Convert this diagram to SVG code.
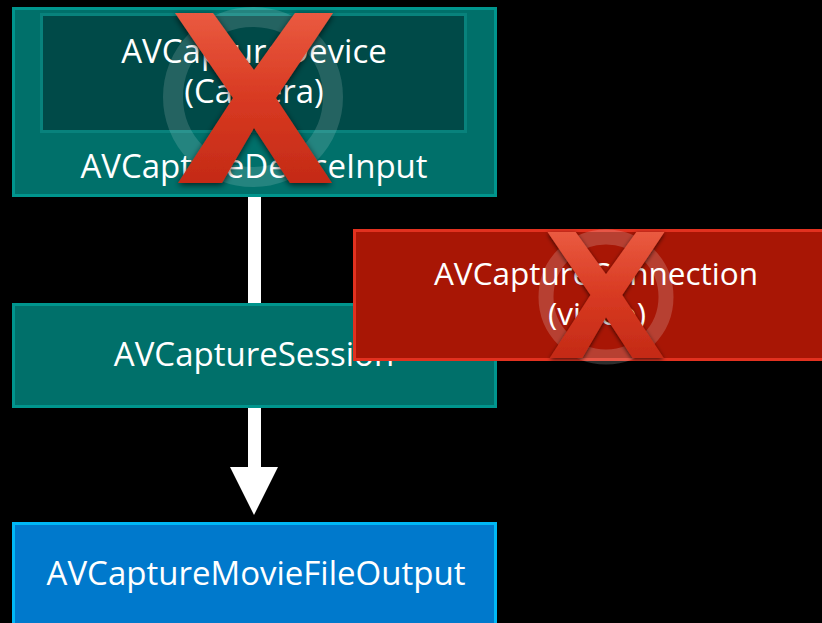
<svg xmlns="http://www.w3.org/2000/svg" width="822" height="623" viewBox="0 0 822 623">
  <defs>
    <style>
      .lbl { font-family: "Open Sans", "Liberation Sans", sans-serif; font-size: 33px; font-weight: 500; fill: #ffffff; text-anchor: middle; }
      .sm { font-size: 31.5px; }
      .teal { fill: #00706a; stroke: #00958d; stroke-width: 3; }
      .inner { fill: #004a48; stroke: #08827c; stroke-width: 3; }
      .red { fill: #a81605; stroke: #e2311f; stroke-width: 3; }
      .blue { fill: #0079cc; stroke: #00b8f6; stroke-width: 3; }
      .ring { fill: none; stroke: #ffffff; }
    </style>
    <linearGradient id="xgrad" x1="0" y1="0" x2="0" y2="1">
      <stop offset="0" stop-color="#ea5a40"/>
      <stop offset="0.5" stop-color="#d83a22"/>
      <stop offset="1" stop-color="#c42a16"/>
    </linearGradient>
    <filter id="xshadow" x="-20%" y="-20%" width="140%" height="140%">
      <feDropShadow dx="0" dy="2" stdDeviation="3" flood-color="#000000" flood-opacity="0.7"/>
    </filter>
    <polygon id="xshape" points="-79,-85 -41,-85 0,-28 41,-85 79,-85 22,0 78,85 36,85 0,30 -32,85 -76,85 -21,0"/>
  </defs>

  <rect x="0" y="0" width="822" height="623" fill="#000000"/>

  <g id="connectors">
    <rect x="248" y="196" width="13" height="108" fill="#ffffff"/>
    <rect x="248" y="407" width="13" height="61" fill="#ffffff"/>
    <polygon points="230,467 278,467 254,515" fill="#ffffff"/>
  </g>

  <g id="device-input">
    <rect class="teal" x="13.5" y="8.5" width="482" height="187"/>
    <text class="lbl" x="254" y="178">AVCaptureDeviceInput</text>
  </g>

  <g id="device">
    <rect class="inner" x="41.5" y="14.5" width="424" height="117"/>
    <text class="lbl" x="254" y="63">AVCaptureDevice</text>
    <text class="lbl" x="254" y="103">(Camera)</text>
  </g>

  <g id="x-mark-1">
    <circle class="ring" cx="253" cy="97" r="80" stroke-width="20" stroke-opacity="0.14"/>
    <use href="#xshape" transform="translate(254,98)" fill="url(#xgrad)" filter="url(#xshadow)"/>
  </g>

  <g id="session">
    <rect class="teal" x="13.5" y="304.5" width="482" height="102"/>
    <text class="lbl" x="254" y="366">AVCaptureSession</text>
  </g>

  <g id="connection">
    <rect class="red" x="354.5" y="230.5" width="470" height="129"/>
    <text class="lbl sm" x="596" y="285">AVCaptureConnection</text>
    <text class="lbl sm" x="597" y="325">(video)</text>
  </g>

  <g id="x-mark-2">
    <circle class="ring" cx="606" cy="297" r="60" stroke-width="15" stroke-opacity="0.18"/>
    <use href="#xshape" transform="translate(606,295) scale(0.74)" fill="url(#xgrad)" filter="url(#xshadow)"/>
  </g>

  <g id="movie-output">
    <rect class="blue" x="13.5" y="523.5" width="482" height="110"/>
    <text class="lbl" x="256" y="585">AVCaptureMovieFileOutput</text>
  </g>
</svg>
